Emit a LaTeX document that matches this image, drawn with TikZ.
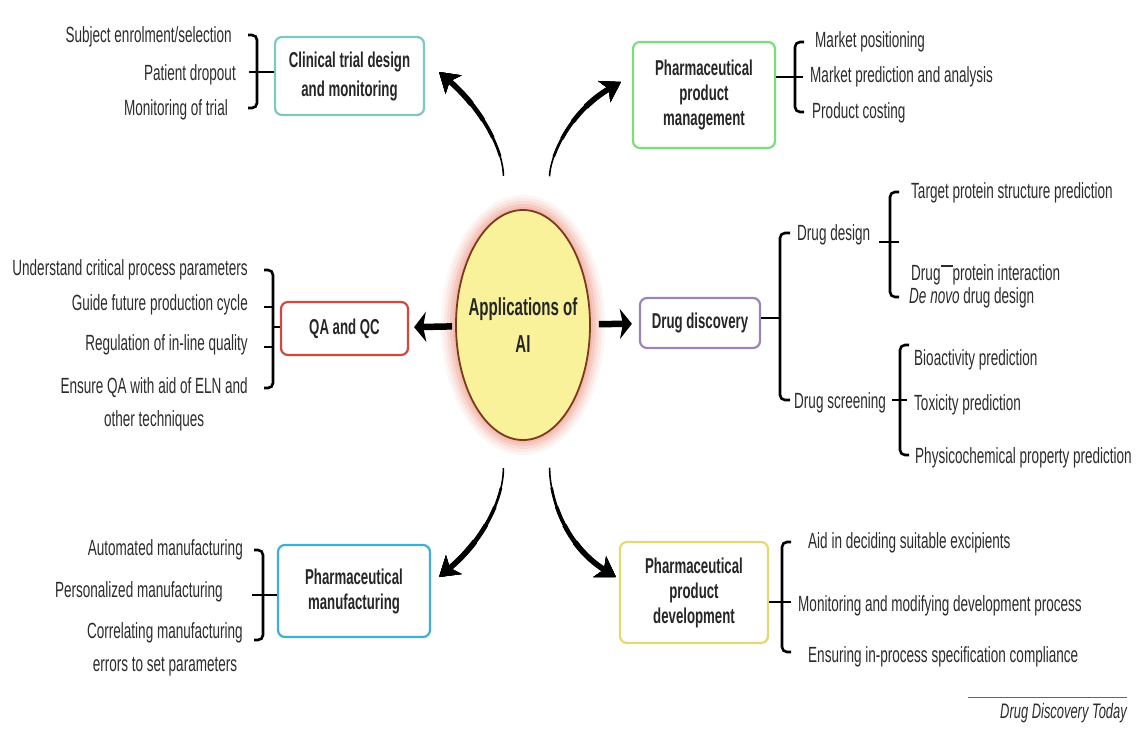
\documentclass[tikz,border=0pt]{standalone}
\usepackage{fontspec}
\setmainfont{Liberation Sans}[FakeStretch=0.615]
\usetikzlibrary{shapes.geometric,arrows.meta}

\definecolor{txtgray}{HTML}{2C2C2C}
\definecolor{clinc}{HTML}{7CC9C2}
\definecolor{mgmtc}{HTML}{7ADF7A}
\definecolor{qac}{HTML}{D0483E}
\definecolor{discc}{HTML}{9C84B8}
\definecolor{manuc}{HTML}{3FAFD6}
\definecolor{devc}{HTML}{E6D870}
\definecolor{aifill}{HTML}{F9F29A}
\definecolor{aiedge}{HTML}{7A3A1E}
\definecolor{glowc}{HTML}{F2A595}

\tikzset{
  itemtxt/.style={font=\fontsize{22}{33}\selectfont, text=txtgray, inner sep=0pt},
  topicbox/.style={draw, rounded corners=7pt, line width=2.2pt, fill=white, align=center,
    text=black!85, inner sep=2pt, font=\fontsize{21.5}{25}\selectfont\bfseries},
  brk/.style={line width=2.6pt, rounded corners=5pt},
  fat/.style={line width=6.5pt, -{Stealth[length=12pt,width=30pt,inset=3pt]}},
  curvarrow/.style={-{Stealth[length=19pt,width=24pt,inset=5pt]}},
}

\begin{document}
\begin{tikzpicture}[x=1pt,y=1pt]
    \useasboundingbox[fill=white] (0,0) rectangle (1137,-730);
    % hub with its glow
    \coordinate (aic) at (523,-325);
    \foreach \rx/\ry/\op in {82/130/0.1,79/127/0.15,76/124/0.2,73/121/0.3,70/118/0.4}
        \fill[glowc, opacity=\op] (aic) ellipse [x radius=\rx, y radius=\ry];
    \node[ellipse, draw=aiedge, line width=1.8pt, fill=aifill, minimum width=134pt,
        minimum height=230pt, inner sep=0pt, align=center, text=black!85,
        font=\fontsize{24.5}{37}\selectfont\bfseries] (ai) at (aic) {\makebox[0pt]{Applications of}\\AI};

    % topics
    \node[topicbox, draw=clinc, minimum width=149pt, minimum height=78pt,
        font=\fontsize{21.5}{29}\selectfont\bfseries] (clin) at (349.5,-76) {Clinical trial design\\and monitoring};
    \node[topicbox, draw=mgmtc, minimum width=142pt, minimum height=106pt] (mgmt) at (704,-95) {Pharmaceutical\\product\\management};
    \node[topicbox, draw=qac, minimum width=127pt, minimum height=53pt] (qa) at (344.5,-328.5) {QA and QC};
    \node[topicbox, draw=discc, minimum width=120pt, minimum height=50pt] (disc) at (700,-323) {Drug discovery};
    \node[topicbox, draw=manuc, minimum width=152pt, minimum height=92pt] (manu) at (354,-591) {Pharmaceutical\\manufacturing};
    \node[topicbox, draw=devc, minimum width=148pt, minimum height=101pt] (dev) at (694,-592.5) {Pharmaceutical\\product\\development};

    \draw[fat, shorten <=3pt, shorten >=5pt] (ai) -- (qa);
    \draw[fat, shorten <=8pt, shorten >=7pt] (ai) -- (disc);
    % tapered curved arrows
    \foreach \w/\o in {1.6pt/0.1pt,2.6pt/20pt,3.6pt/40pt,4.6pt/60pt,5.6pt/80pt}{
        \draw[curvarrow, line width=\w, dash pattern=on 0pt off \o on 400pt, shorten <=38pt]
            (ai.100) to[out=90,in=-41] ([shift={(14,4)}]clin.east);
        \draw[curvarrow, line width=\w, dash pattern=on 0pt off \o on 400pt, shorten <=42pt]
            (ai.76) to[out=90,in=210] ([shift={(-11,13)}]mgmt.west);
        \draw[curvarrow, line width=\w, dash pattern=on 0pt off \o on 400pt, shorten <=32pt]
            (ai.-100) to[out=-90,in=40] ([shift={(8,14)}]manu.east);
        \draw[curvarrow, line width=\w, dash pattern=on 0pt off \o on 400pt, shorten <=36pt]
            (ai.-76) to[out=-90,in=148] ([shift={(-3,15.5)}]dev.west);
    }

    % clinical trial
    \node[itemtxt, anchor=east] (clin1) at (232,-37) {Subject enrolment/selection};
    \node[itemtxt, anchor=east] (clin2) at (236,-75) {Patient dropout};
    \node[itemtxt, anchor=east] (clin3) at (228,-110) {Monitoring of trial};
    \draw[brk] (248,-35) -- (257,-35) -- (257,-108) -- (248,-108);
    \coordinate (clinbr) at (249,-72);
    \draw[brk] (clinbr) -- (clinbr -| clin.west);

    % product management
    \node[itemtxt, anchor=west] (mgmt1) at (815,-42) {Market positioning};
    \node[itemtxt, anchor=west] (mgmt2) at (810,-77) {Market prediction and analysis};
    \node[itemtxt, anchor=west] (mgmt3) at (812,-113) {Product costing};
    \draw[brk] (804,-42) -- (795,-42) -- (795,-112) -- (804,-112);
    \coordinate (mgmtbr) at (803,-77);
    \draw[brk] (mgmtbr) -- (mgmtbr -| mgmt.east);

    % QA and QC
    \node[itemtxt, anchor=east] (qa1) at (248,-270) {Understand critical process parameters};
    \node[itemtxt, anchor=east] (qa2) at (248,-305) {Guide future production cycle};
    \node[itemtxt, anchor=east] (qa3) at (248,-345) {Regulation of in-line quality};
    \node[itemtxt, anchor=east, align=center] (qa4) at (248,-404) {Ensure QA with aid of ELN and\\other techniques};
    \draw[brk] (264,-270) -- (273,-270) -- (273,-388) -- (264,-388);
    \foreach \y in {307,347}
        \draw[brk] (264,-\y) -- (273,-\y);
    \coordinate (qabr) at (273,-327);
    \draw[brk] (qabr) -- (qabr -| qa.west);

    % drug discovery
    \node[itemtxt, anchor=west] (design) at (797,-235) {Drug design};
    \node[itemtxt, anchor=west] (screen) at (794,-403) {Drug screening};
    \draw[brk] (790,-233) -- (780,-233) -- (780,-400) -- (790,-400);
    \coordinate (discbr) at (780,-318);
    \draw[brk] (discbr) -- (discbr -| disc.east);
    \node[itemtxt, anchor=west] (design1) at (911,-193) {Target protein structure prediction};
    \node[itemtxt, anchor=west] (design2) at (911,-275) {Drug\raisebox{1.15ex}{\rule{0.55em}{2pt}}protein interaction};
    \node[itemtxt, anchor=west] (design3) at (909,-298) {\textit{De novo} drug design};
    \draw[brk] (899,-192) -- (890,-192) -- (890,-297) -- (899,-297);
    \draw[brk] (879,-242) -- (899,-242);
    \node[itemtxt, anchor=west] (screen1) at (914,-360) {Bioactivity prediction};
    \node[itemtxt, anchor=west] (screen2) at (914,-405) {Toxicity prediction};
    \node[itemtxt, anchor=west] (screen3) at (915,-458) {Physicochemical property prediction};
    \draw[brk] (909,-345) -- (900,-345) -- (900,-455) -- (909,-455);
    \draw[brk] (892,-400) -- (907,-400);

    % manufacturing
    \node[itemtxt, anchor=east] (manu1) at (243,-550) {Automated manufacturing};
    \node[itemtxt, anchor=east] (manu2) at (223,-592) {Personalized manufacturing};
    \node[itemtxt, anchor=east, align=center] (manu3) at (243,-649) {Correlating manufacturing\\errors to set parameters};
    \draw[brk] (254,-550) -- (263,-550) -- (263,-640) -- (254,-640);
    \coordinate (manubr) at (252,-595);
    \draw[brk] (manubr) -- (manubr -| manu.west);

    % product development
    \node[itemtxt, anchor=west] (dev1) at (808,-543) {Aid in deciding suitable excipients};
    \node[itemtxt, anchor=west] (dev2) at (798,-606) {Monitoring and modifying development process};
    \node[itemtxt, anchor=west] (dev3) at (808,-657) {Ensuring in-process specification compliance};
    \draw[brk] (791,-542) -- (782,-542) -- (782,-652) -- (791,-652);
    \coordinate (devbr) at (791,-602);
    \draw[brk] (devbr) -- (devbr -| dev.east);

    % source
    \node[itemtxt, anchor=east, font=\fontsize{21}{22}\selectfont\itshape] (src) at (1127,-713) {Drug Discovery Today};
    \draw[black!60, line width=0.8pt] (968,-697) -- (1127,-697);
\end{tikzpicture}
\end{document}
